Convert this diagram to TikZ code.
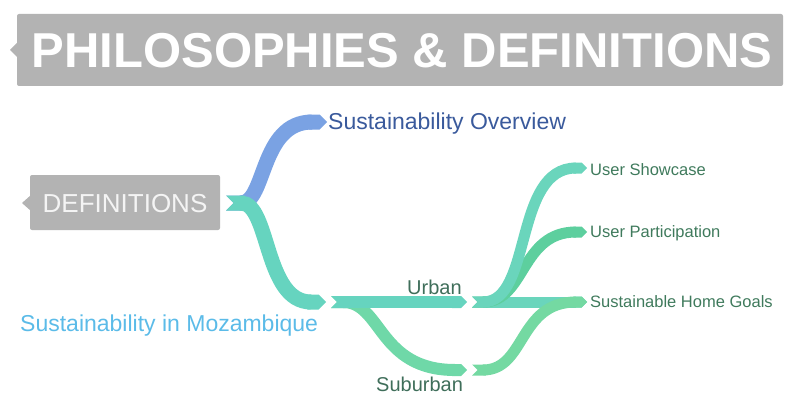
\documentclass[tikz,border=0pt]{standalone}
\usepackage{fontspec}
\setmainfont{Liberation Sans}
\usetikzlibrary{arrows.meta}
\definecolor{boxgray}{HTML}{B3B3B3}
\definecolor{defwhite}{HTML}{F4F4F4}
\definecolor{brblue}{HTML}{7AA2E3}
\definecolor{brteal}{HTML}{66D4BF}
\definecolor{brtealb}{HTML}{6AD5BC}
\definecolor{brgreen}{HTML}{6FD8A8}
\definecolor{brgreenb}{HTML}{5DCF9E}
\definecolor{brgreenc}{HTML}{74D9A2}
\definecolor{txtblue}{HTML}{3A5A9C}
\definecolor{txtsky}{HTML}{5BBBE8}
\definecolor{txtgreen}{HTML}{3F7A5C}
\definecolor{txtmid}{HTML}{3F6E5A}
\begin{document}
\begin{tikzpicture}[x=1pt,y=-1pt,
  lbl/.style={inner sep=0pt,anchor=base west},
  branch/.style={line width=#1,{Triangle Cap[reversed]}-{Triangle Cap}},
  tagbox/.style={fill=boxgray,rounded corners=2pt}]
\useasboundingbox (0,0) rectangle (785,396);

% title tag
\fill[boxgray] (18,42) -- (10,50) -- (18,58) -- cycle;
\fill[tagbox] (17,14) rectangle (783,86);
\node[inner sep=0pt,anchor=base,text=white,font=\bfseries\fontsize{49}{58}\selectfont] (title) at (402,68) {PHILOSOPHIES \& DEFINITIONS};

% root tag
\fill[boxgray] (31,195) -- (22,203) -- (31,211) -- cycle;
\fill[tagbox] (30,175) rectangle (220,230);
\node[inner sep=0pt,anchor=base,text=defwhite,font=\fontsize{26}{31}\selectfont] (root) at (125,212) {DEFINITIONS};

% branch end points
\coordinate (r0) at (226,203);
\coordinate (ov) at (327,122);
\coordinate (mz) at (326,302);
\coordinate (m0) at (331,302);
\coordinate (ub) at (467,302);
\coordinate (sb) at (467,370);
\coordinate (u0) at (472,302);
\coordinate (s0) at (472,370);
\coordinate (sc) at (587,168);
\coordinate (pa) at (587,232);
\coordinate (hg) at (587,302);

% branches
\draw[branch=15pt,brblue] (r0) .. controls (266,203) and (260,122) .. (ov);
\draw[branch=15pt,brteal] (r0) .. controls (270,203) and (264,302) .. (mz);
\draw[branch=12pt,brgreen] (m0) .. controls (382,302) and (378,370) .. (sb);
\draw[branch=12pt,brteal] (m0) -- (ub);
\draw[branch=11pt,brtealb] (u0) -- (hg);
\draw[branch=11pt,brgreenc] (s0) .. controls (526,370) and (518,302) .. (hg);
\draw[branch=11pt,brgreenb] (u0) .. controls (526,302) and (520,232) .. (pa);
\draw[branch=11pt,brtealb] (u0) .. controls (533,302) and (513,168) .. (sc);

% labels
\node[lbl,text=txtblue,font=\fontsize{23}{28}\selectfont] (ovt) at (328,129) {Sustainability Overview};
\node[lbl,text=txtsky,font=\fontsize{23}{28}\selectfont] (mzt) at (20,331) {Sustainability in Mozambique};
\node[lbl,text=txtmid,font=\fontsize{20}{24}\selectfont] (ubt) at (407,294) {Urban};
\node[lbl,text=txtmid,font=\fontsize{20}{24}\selectfont] (sbt) at (376,391) {Suburban};
\node[lbl,text=txtgreen,font=\fontsize{16.5}{20}\selectfont] (sct) at (590,175) {User Showcase};
\node[lbl,text=txtgreen,font=\fontsize{16.5}{20}\selectfont] (pat) at (590,237) {User Participation};
\node[lbl,text=txtgreen,font=\fontsize{16.5}{20}\selectfont] (hgt) at (590,307) {Sustainable Home Goals};
\end{tikzpicture}
\end{document}
